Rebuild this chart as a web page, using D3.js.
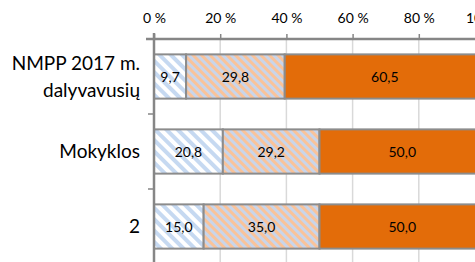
<!DOCTYPE html>
<html>
<head>
<meta charset="utf-8">
<script src="https://cdn.jsdelivr.net/npm/d3@7"></script>
<style>
html, body { margin: 0; padding: 0; background: #fff; overflow: hidden; }
svg { display: block; }
</style>
</head>
<body>
<svg id="chart" width="475" height="262"></svg>
<script>
// ---- data ----
const categories = ["NMPP 2017 m.\ndalyvavusių", "Mokyklos", "2"];
const seriesA = [9.7, 20.8, 15.0];
const seriesB = [29.8, 29.2, 35.0];
const seriesC = [60.5, 50.0, 50.0];
const tickValues = [0, 20, 40, 60, 80, 100];
const tickLabels = ["0 %", "20 %", "40 %", "60 %", "80 %", "100 %"];

const svg = d3.select("#chart");
const W = 475, H = 262;
const fontFam = "Lato, 'Open Sans', sans-serif";

const x = d3.scaleLinear().domain([0, 100]).range([154, 485]);
const y = d3.scaleBand().domain(categories).range([39, 264]).paddingInner(0.41).paddingOuter(0.205);

// patterns
const defs = svg.append("defs");
const pA = defs.append("pattern").attr("id", "patA").attr("patternUnits", "userSpaceOnUse")
  .attr("width", 8).attr("height", 8).attr("patternTransform", "rotate(-45)");
pA.append("rect").attr("width", 8).attr("height", 8).attr("fill", "#ffffff");
pA.append("rect").attr("width", 4).attr("height", 8).attr("fill", "#c6d9f1");

const pB = defs.append("pattern").attr("id", "patB").attr("patternUnits", "userSpaceOnUse")
  .attr("width", 6).attr("height", 6).attr("patternTransform", "rotate(-45)");
pB.append("rect").attr("width", 6).attr("height", 6).attr("fill", "#c9d5ea");
pB.append("rect").attr("width", 3).attr("height", 6).attr("fill", "#f9c39a");

// gridlines
svg.append("g").selectAll("line").data(tickValues.slice(1)).join("line")
  .attr("x1", d => x(d)).attr("x2", d => x(d))
  .attr("y1", 39).attr("y2", H)
  .attr("stroke", "#d9d9d9").attr("stroke-width", 1.5);

// bars
const fills = ["url(#patA)", "url(#patB)", "#e36c09"];
const series = [seriesA, seriesB, seriesC];
const stacked = categories.map((c, i) => {
  let acc = 0;
  return series.map((s, k) => {
    const seg = { cat: c, k, x0: acc, x1: acc + s[i], v: s[i] };
    acc += s[i];
    return seg;
  });
}).flat();

const gBars = svg.append("g");
gBars.selectAll("rect").data(stacked).join("rect")
  .attr("x", d => x(d.x0))
  .attr("y", d => y(d.cat))
  .attr("width", d => x(d.x1) - x(d.x0))
  .attr("height", y.bandwidth())
  .attr("fill", d => fills[d.k])
  .attr("stroke", "#8c8c8c")
  .attr("stroke-width", 2);

const fmt = v => d3.format(".1f")(v).replace(".", ",");
gBars.selectAll("text").data(stacked).join("text")
  .attr("x", d => x((d.x0 + d.x1) / 2))
  .attr("y", d => y(d.cat) + y.bandwidth() / 2)
  .attr("dy", "0.36em")
  .attr("text-anchor", "middle")
  .attr("font-family", fontFam)
  .attr("font-size", 14)
  .attr("fill", "#000")
  .text(d => fmt(d.v));

// top axis
const xAxis = d3.axisTop(x).tickValues(tickValues)
  .tickFormat((d, i) => tickLabels[i]).tickSize(5).tickSizeOuter(0).tickPadding(11);
const gx = svg.append("g").attr("transform", "translate(0,39)").call(xAxis);
gx.select(".domain").attr("stroke", "#868686").attr("stroke-width", 2.5).attr("d", `M${x(0) - 8},0H${x(100)}`);
gx.selectAll(".tick line").attr("stroke", "#868686").attr("stroke-width", 1.5);
gx.selectAll(".tick text").attr("font-family", fontFam).attr("font-size", 14).attr("fill", "#000");

// left axis line and category boundary ticks
const bounds = [39, ...categories.map(c => y(c) + y.bandwidth() + y.step() * y.paddingInner() / 2)];
svg.append("line").attr("x1", x(0)).attr("x2", x(0)).attr("y1", 33).attr("y2", H)
  .attr("stroke", "#868686").attr("stroke-width", 2.5);
svg.append("g").selectAll("line").data(bounds.slice(1)).join("line")
  .attr("x1", x(0) - 6).attr("x2", x(0)).attr("y1", d => d).attr("y2", d => d)
  .attr("stroke", "#868686").attr("stroke-width", 1.5);

// category labels
const lineH = 26.7;
const gy = svg.append("g");
categories.forEach(c => {
  const lines = c.split("\n");
  const cy = y(c) + y.bandwidth() / 2;
  const t = gy.append("text")
    .attr("x", 140).attr("y", cy)
    .attr("text-anchor", "end")
    .attr("font-family", fontFam)
    .attr("font-size", 19)
    .attr("fill", "#000");
  lines.forEach((ln, i) => {
    t.append("tspan").attr("x", 140).attr("y", cy + (i - (lines.length - 1) / 2) * lineH)
      .attr("dy", "0.35em").text(ln);
  });
});
</script>
</body>
</html>
